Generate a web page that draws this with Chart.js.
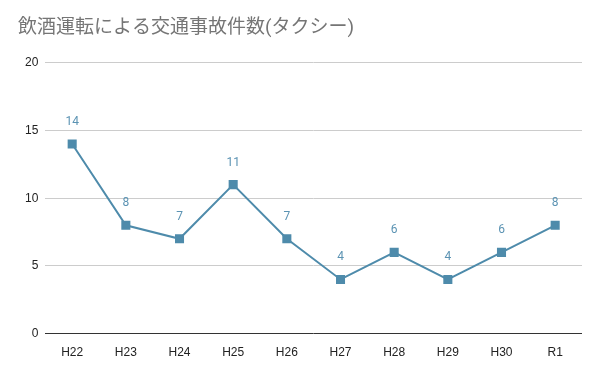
<!DOCTYPE html>
<html>
<head>
<meta charset="utf-8">
<script src="https://cdn.jsdelivr.net/npm/chart.js@4/dist/chart.umd.min.js"></script>
<style>
  html, body { margin: 0; padding: 0; background: #fff; }
  #wrap { width: 600px; height: 371px; }
</style>
</head>
<body>
<div id="wrap"><canvas id="myChart"></canvas></div>
<script>
const nendo = ["H22", "H23", "H24", "H25", "H26", "H27", "H28", "H29", "H30", "R1"];
const kensu = [14, 8, 7, 11, 7, 4, 6, 4, 6, 8];
const yTicks = [0, 5, 10, 15, 20];

const lineColor = "#4e8bab";

// valores em cima dos pontos
const rotulos = {
  id: "rotulos",
  afterDatasetsDraw(chart) {
    const ctx = chart.ctx;
    const meta = chart.getDatasetMeta(0);
    ctx.save();
    ctx.fillStyle = "#5b93b3";
    ctx.font = "12px Roboto, Arial, sans-serif";
    ctx.textAlign = "center";
    ctx.textBaseline = "middle";
    meta.data.forEach(function (pt, i) {
      ctx.fillText(kensu[i], pt.x, pt.y - 22);
    });
    ctx.restore();
  }
};

const config = {
  type: "line",
  data: {
    labels: nendo,
    datasets: [{
      label: "件数",
      data: kensu,
      borderColor: lineColor,
      backgroundColor: lineColor,
      borderWidth: 2,
      pointStyle: "rect",
      pointRadius: 5,
      pointHoverRadius: 5,
      tension: 0
    }]
  },
  options: {
    responsive: true,
    maintainAspectRatio: false,
    animation: false,
    layout: { padding: { left: 18, right: 18, top: 6, bottom: 7 } },
    plugins: {
      legend: { display: false },
      tooltip: { enabled: false },
      title: {
        display: true,
        text: "飲酒運転による交通事故件数(タクシー)",
        align: "start",
        color: "#757575",
        font: { size: 19, family: "Roboto, 'Noto Sans CJK JP', sans-serif", weight: "normal" },
        padding: { top: 11, bottom: 23 }
      }
    },
    scales: {
      x: {
        offset: true,
        grid: { display: false },
        border: { display: false },
        ticks: { color: "#222", font: { size: 12, family: "Arial, sans-serif" }, padding: 4 }
      },
      y: {
        min: 0,
        max: 20,
        afterBuildTicks(axis) {
          axis.ticks = yTicks.map(v => ({ value: v }));
        },
        border: { display: false },
        grid: {
          color: ctx => ctx.tick && ctx.tick.value === 0 ? "#333" : "#ccc",
          lineWidth: 1,
          drawTicks: false
        },
        ticks: { color: "#222", font: { size: 12, family: "Arial, sans-serif" }, padding: 7 }
      }
    }
  },
  plugins: [rotulos]
};

new Chart(document.getElementById("myChart"), config);
</script>
</body>
</html>
